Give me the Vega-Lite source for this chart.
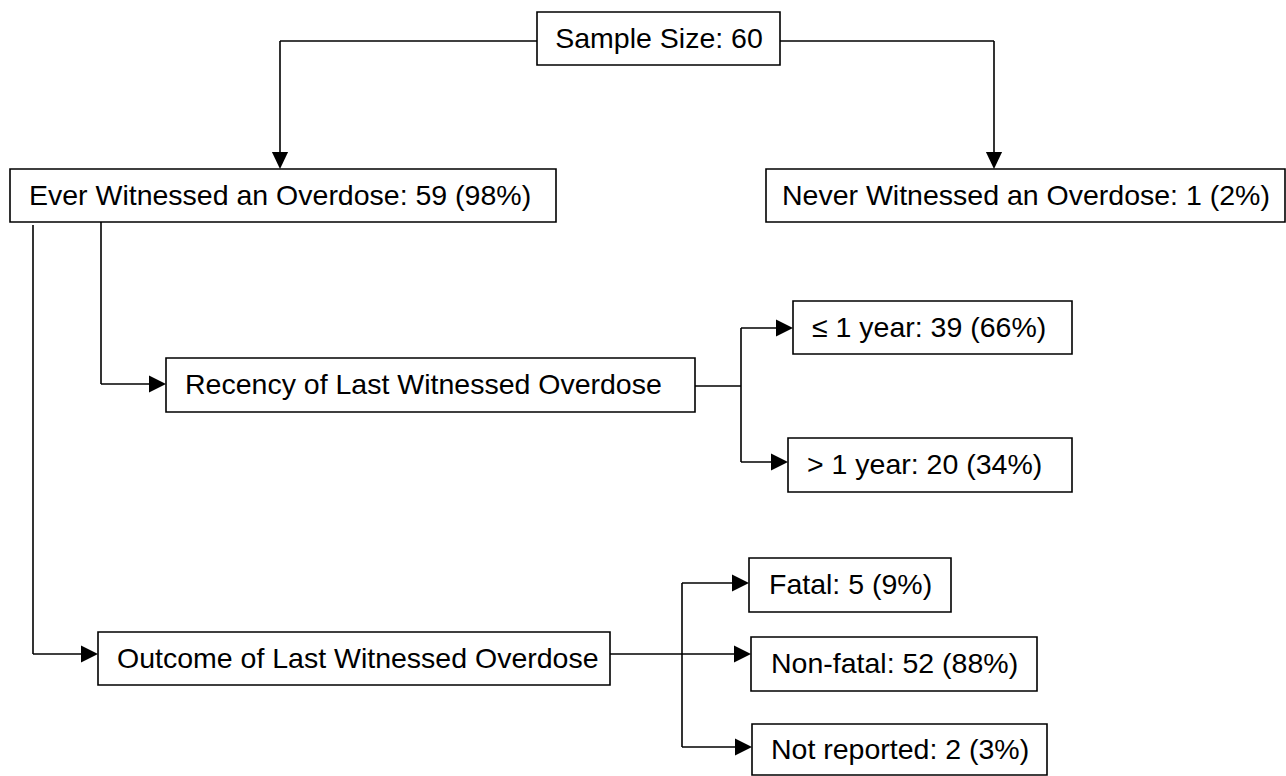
{
  "$schema": "https://vega.github.io/schema/vega-lite/v6.json",
  "width": 1286,
  "height": 776,
  "autosize": "none",
  "padding": 0,
  "background": "white",
  "config": {"view": {"stroke": null}, "axis": {"disable": true}},
  "datasets": {
    "boxes": [
      {"id": "sample", "label": "Sample Size: 60", "left": 537, "right": 780, "top": 12, "bottom": 65, "tx": 659, "align": "center"},
      {"id": "ever", "label": "Ever Witnessed an Overdose: 59 (98%)", "left": 10, "right": 556, "top": 169, "bottom": 222, "tx": 29, "align": "left"},
      {"id": "never", "label": "Never Witnessed an Overdose: 1 (2%)", "left": 766, "right": 1285, "top": 169, "bottom": 222, "tx": 782, "align": "left"},
      {"id": "recency", "label": "Recency of Last Witnessed Overdose", "left": 166, "right": 695, "top": 358, "bottom": 412, "tx": 185, "align": "left"},
      {"id": "le1", "label": "≤ 1 year: 39 (66%)", "left": 793, "right": 1072, "top": 301, "bottom": 354, "tx": 812, "align": "left"},
      {"id": "gt1", "label": "> 1 year: 20 (34%)", "left": 788, "right": 1072, "top": 438, "bottom": 492, "tx": 807, "align": "left"},
      {"id": "outcome", "label": "Outcome of Last Witnessed Overdose", "left": 98, "right": 610, "top": 632, "bottom": 685, "tx": 117, "align": "left"},
      {"id": "fatal", "label": "Fatal: 5 (9%)", "left": 749, "right": 951, "top": 558, "bottom": 612, "tx": 769, "align": "left"},
      {"id": "nonfatal", "label": "Non-fatal: 52 (88%)", "left": 751, "right": 1037, "top": 637, "bottom": 691, "tx": 771, "align": "left"},
      {"id": "notrep", "label": "Not reported: 2 (3%)", "left": 752, "right": 1047, "top": 724, "bottom": 775, "tx": 771, "align": "left"}
    ],
    "segments": [
      {"xa": 537, "ya": 41, "xb": 280, "yb": 41},
      {"xa": 280, "ya": 41, "xb": 280, "yb": 155},
      {"xa": 780, "ya": 41, "xb": 994, "yb": 41},
      {"xa": 994, "ya": 41, "xb": 994, "yb": 155},
      {"xa": 33, "ya": 225, "xb": 33, "yb": 654},
      {"xa": 33, "ya": 654, "xb": 84, "yb": 654},
      {"xa": 101, "ya": 222, "xb": 101, "yb": 384},
      {"xa": 101, "ya": 384, "xb": 152, "yb": 384},
      {"xa": 695, "ya": 386, "xb": 741, "yb": 386},
      {"xa": 741, "ya": 328, "xb": 741, "yb": 462},
      {"xa": 741, "ya": 328, "xb": 779, "yb": 328},
      {"xa": 741, "ya": 462, "xb": 774, "yb": 462},
      {"xa": 610, "ya": 654, "xb": 737, "yb": 654},
      {"xa": 682, "ya": 583, "xb": 682, "yb": 747},
      {"xa": 682, "ya": 583, "xb": 735, "yb": 583},
      {"xa": 682, "ya": 747, "xb": 738, "yb": 747}
    ],
    "arrows": [
      {"tipx": 280, "tipy": 169, "dir": "down"},
      {"tipx": 994, "tipy": 169, "dir": "down"},
      {"tipx": 98, "tipy": 654, "dir": "right"},
      {"tipx": 166, "tipy": 384, "dir": "right"},
      {"tipx": 793, "tipy": 328, "dir": "right"},
      {"tipx": 788, "tipy": 462, "dir": "right"},
      {"tipx": 751, "tipy": 654, "dir": "right"},
      {"tipx": 749, "tipy": 583, "dir": "right"},
      {"tipx": 752, "tipy": 747, "dir": "right"}
    ]
  },
  "resolve": {"scale": {"x": "shared", "y": "shared"}},
  "layer": [
    {
      "data": {"name": "boxes"},
      "mark": {"type": "rect", "fill": "white", "stroke": "black", "strokeWidth": 1.6},
      "encoding": {
        "x": {"field": "left", "type": "quantitative", "scale": {"domain": [0, 1286], "nice": false, "zero": false}, "axis": null},
        "x2": {"field": "right"},
        "y": {"field": "top", "type": "quantitative", "scale": {"domain": [0, 776], "nice": false, "zero": false, "reverse": true}, "axis": null},
        "y2": {"field": "bottom"}
      }
    },
    {
      "data": {"name": "segments"},
      "mark": {"type": "rule", "stroke": "black", "strokeWidth": 1.6},
      "encoding": {
        "x": {"field": "xa", "type": "quantitative", "scale": {"domain": [0, 1286], "nice": false, "zero": false}, "axis": null},
        "x2": {"field": "xb"},
        "y": {"field": "ya", "type": "quantitative", "scale": {"domain": [0, 776], "nice": false, "zero": false, "reverse": true}, "axis": null},
        "y2": {"field": "yb"}
      }
    },
    {
      "data": {"name": "arrows"},
      "transform": [{"filter": "datum.dir === 'down'"}],
      "mark": {"type": "point", "shape": "M0,0L-0.95,-2L0.95,-2Z", "size": 289, "filled": true, "fill": "black", "strokeWidth": 0, "opacity": 1},
      "encoding": {
        "x": {"field": "tipx", "type": "quantitative", "scale": {"domain": [0, 1286], "nice": false, "zero": false}, "axis": null},
        "y": {"field": "tipy", "type": "quantitative", "scale": {"domain": [0, 776], "nice": false, "zero": false, "reverse": true}, "axis": null}
      }
    },
    {
      "data": {"name": "arrows"},
      "transform": [{"filter": "datum.dir === 'right'"}],
      "mark": {"type": "point", "shape": "M0,0L-2,-1L-2,1Z", "size": 289, "filled": true, "fill": "black", "strokeWidth": 0, "opacity": 1},
      "encoding": {
        "x": {"field": "tipx", "type": "quantitative", "scale": {"domain": [0, 1286], "nice": false, "zero": false}, "axis": null},
        "y": {"field": "tipy", "type": "quantitative", "scale": {"domain": [0, 776], "nice": false, "zero": false, "reverse": true}, "axis": null}
      }
    },
    {
      "data": {"name": "boxes"},
      "transform": [{"filter": "datum.align === 'center'"}, {"calculate": "(datum.top + datum.bottom) / 2", "as": "mid"}],
      "mark": {"type": "text", "align": "center", "baseline": "middle", "font": "Liberation Sans", "fontSize": 28.5, "color": "black"},
      "encoding": {
        "x": {"field": "tx", "type": "quantitative", "scale": {"domain": [0, 1286], "nice": false, "zero": false}, "axis": null},
        "y": {"field": "mid", "type": "quantitative", "scale": {"domain": [0, 776], "nice": false, "zero": false, "reverse": true}, "axis": null},
        "text": {"field": "label"}
      }
    },
    {
      "data": {"name": "boxes"},
      "transform": [{"filter": "datum.align === 'left'"}, {"calculate": "(datum.top + datum.bottom) / 2", "as": "mid"}],
      "mark": {"type": "text", "align": "left", "baseline": "middle", "font": "Liberation Sans", "fontSize": 28.5, "color": "black"},
      "encoding": {
        "x": {"field": "tx", "type": "quantitative", "scale": {"domain": [0, 1286], "nice": false, "zero": false}, "axis": null},
        "y": {"field": "mid", "type": "quantitative", "scale": {"domain": [0, 776], "nice": false, "zero": false, "reverse": true}, "axis": null},
        "text": {"field": "label"}
      }
    }
  ]
}
